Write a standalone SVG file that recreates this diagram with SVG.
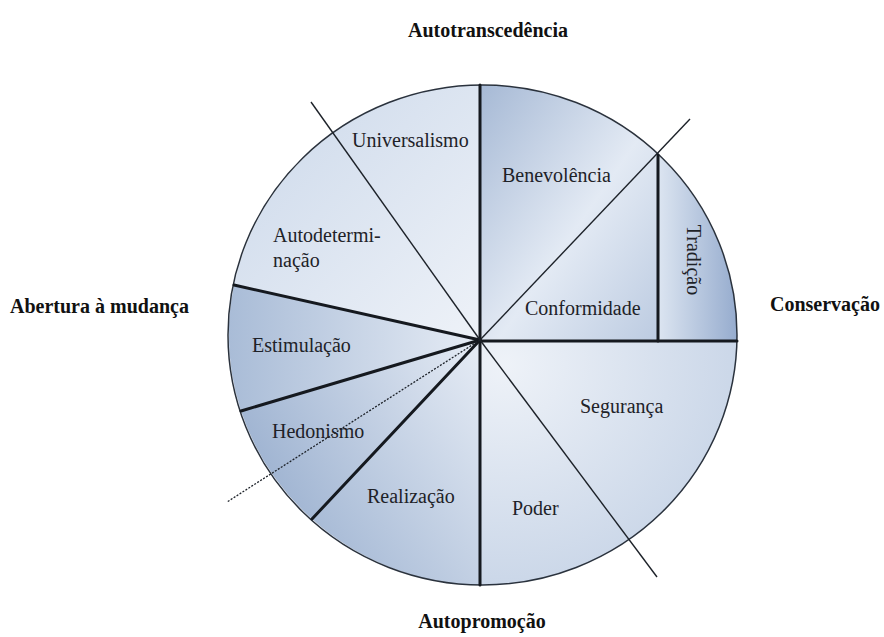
<svg xmlns="http://www.w3.org/2000/svg" width="884" height="637" viewBox="0 0 884 637">
<style>
.lbl{font-family:"Liberation Serif","Times New Roman",serif;font-size:20px;fill:#1e2228}
.ax{font-family:"Liberation Serif","Times New Roman",serif;font-size:20px;font-weight:bold;fill:#111}
.thick{stroke:#15191f;stroke-width:3;fill:none;stroke-linecap:round}
.thin{stroke:#1d2229;stroke-width:1.4;fill:none}
.dot{stroke:#1d2229;stroke-width:1.3;fill:none;stroke-dasharray:2 1.5}
</style>
<defs>
<linearGradient id="g1" x1="0" y1="0" x2="1" y2="1"><stop offset="0" stop-color="#cbd8ea"/><stop offset="1" stop-color="#eef2f8"/></linearGradient>
<linearGradient id="g2" x1="0" y1="0" x2="1" y2="1"><stop offset="0" stop-color="#a6b9d5"/><stop offset="0.55" stop-color="#e3eaf4"/><stop offset="1" stop-color="#bccbe1"/></linearGradient>
<linearGradient id="g3" x1="0" y1="0" x2="1" y2="0"><stop offset="0" stop-color="#dce5f1"/><stop offset="1" stop-color="#96acce"/></linearGradient>
<radialGradient id="g4" cx="0.1" cy="0.1" r="1.1"><stop offset="0" stop-color="#eef2f8"/><stop offset="1" stop-color="#c3d1e5"/></radialGradient>
<linearGradient id="g5" x1="1" y1="0" x2="0" y2="1"><stop offset="0" stop-color="#e6ecf5"/><stop offset="1" stop-color="#9fb4d2"/></linearGradient>
<linearGradient id="g6" x1="1" y1="0" x2="0" y2="0.4"><stop offset="0" stop-color="#e6ecf5"/><stop offset="1" stop-color="#a2b6d3"/></linearGradient>
<linearGradient id="g7" x1="1" y1="0.5" x2="0" y2="0.5"><stop offset="0" stop-color="#e6ecf5"/><stop offset="1" stop-color="#a9bcd7"/></linearGradient>
</defs>
<g id="sectors">
<path d="M480,340 L234,285 A254.5,250 0 0 1 480,85 Z" fill="url(#g1)"/>
<path d="M480,340 L480,85 A254.5,250 0 0 1 658,155 L658,341 Z" fill="url(#g2)"/>
<path d="M658,341 L658,155 A254.5,250 0 0 1 737,341 Z" fill="url(#g3)"/>
<path d="M480,340 L737,341 A254.5,250 0 0 1 480,585 Z" fill="url(#g4)"/>
<path d="M480,340 L480,585 A254.5,250 0 0 1 312,519 Z" fill="url(#g5)"/>
<path d="M480,340 L312,519 A254.5,250 0 0 1 241,411 Z" fill="url(#g6)"/>
<path d="M480,340 L241,411 A254.5,250 0 0 1 234,285 Z" fill="url(#g7)"/>
<ellipse cx="482.5" cy="335" rx="254.5" ry="250" fill="none" stroke="#2a323d" stroke-width="1.5"/>
</g>
<g id="connectors">
<line class="thick" x1="480" y1="85" x2="480" y2="585"/>
<line class="thick" x1="480" y1="341" x2="737" y2="341"/>
<line class="thick" x1="658" y1="155" x2="658" y2="341"/>
<line class="thick" x1="480" y1="340" x2="234" y2="285"/>
<line class="thick" x1="480" y1="340" x2="241" y2="411"/>
<line class="thick" x1="480" y1="340" x2="312" y2="519"/>
<line class="thin" x1="480" y1="340" x2="690" y2="119"/>
<line class="thin" x1="480" y1="340" x2="311" y2="102"/>
<line class="thin" x1="480" y1="340" x2="657" y2="577"/>
<line class="dot" x1="480" y1="340" x2="227" y2="502"/>
</g>
<g id="labels">
<text class="lbl" x="352" y="147">Universalismo</text>
<text class="lbl" x="273" y="242">Autodetermi-</text>
<text class="lbl" x="273" y="267">nação</text>
<text class="lbl" x="502" y="182">Benevolência</text>
<text class="lbl" x="525" y="315">Conformidade</text>
<text class="lbl" text-anchor="middle" transform="translate(687,260) rotate(90)">Tradição</text>
<text class="lbl" x="252" y="352">Estimulação</text>
<text class="lbl" x="272" y="438">Hedonismo</text>
<text class="lbl" x="367" y="503">Realização</text>
<text class="lbl" x="580" y="413">Segurança</text>
<text class="lbl" x="512" y="515">Poder</text>
</g>
<g id="axes">
<text class="ax" x="488" y="37" text-anchor="middle">Autotranscedência</text>
<text class="ax" x="10" y="313">Abertura à mudança</text>
<text class="ax" x="770" y="311">Conservação</text>
<text class="ax" x="482" y="628" text-anchor="middle">Autopromoção</text>
</g>
</svg>
